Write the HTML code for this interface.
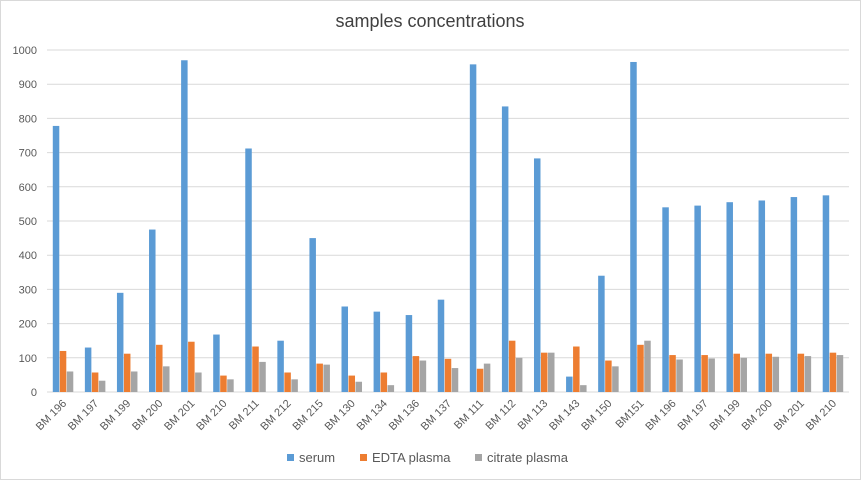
<!DOCTYPE html>
<html><head><meta charset="utf-8"><style>
html,body{margin:0;padding:0;background:#fff;}
body{width:861px;height:480px;overflow:hidden;font-family:"Liberation Sans",sans-serif;}
svg text{font-family:"Liberation Sans",sans-serif;}
</style></head><body>
<svg id="chart" width="861" height="480" xmlns="http://www.w3.org/2000/svg">
<rect x="0.5" y="0.5" width="860" height="479" fill="#fff" stroke="#d9d9d9"/>
<text x="430" y="27" text-anchor="middle" font-size="18" fill="#404040">samples concentrations</text>
<g id="grid"></g><g id="bars"></g><g id="labels"></g>
<g>
<g><rect x="287" y="454" width="7" height="7" fill="#5b9bd5"/><text x="299" y="462" font-size="13" fill="#595959">serum</text></g>
<g><rect x="360" y="454" width="7" height="7" fill="#ed7d31"/><text x="372" y="462" font-size="13" fill="#595959">EDTA plasma</text></g>
<g><rect x="475" y="454" width="7" height="7" fill="#a5a5a5"/><text x="487" y="462" font-size="13" fill="#595959">citrate plasma</text></g>
</g>
</svg>
<script>
const categories=["BM 196","BM 197","BM 199","BM 200","BM 201","BM 210","BM 211","BM 212","BM 215","BM 130","BM 134","BM 136","BM 137","BM 111","BM 112","BM 113","BM 143","BM 150","BM151","BM 196","BM 197","BM 199","BM 200","BM 201","BM 210"];
const serum=[778,130,290,475,970,168,712,150,450,250,235,225,270,958,835,683,45,340,965,540,545,555,560,570,575];
const edta=[120,57,112,138,147,48,133,57,83,48,57,105,97,68,150,115,133,92,138,108,108,112,112,112,115];
const citrate=[60,33,60,75,57,37,88,37,80,30,20,92,70,83,100,115,20,75,150,95,98,100,103,105,108];
const yTicks=[0,100,200,300,400,500,600,700,800,900,1000];
const NS="http://www.w3.org/2000/svg";
const L=47,R=849,Y0=392,Y1=50,YMAX=1000;
const y=v=>Y0-(v/YMAX)*(Y0-Y1);
const bw=(R-L)/categories.length;
const xc=i=>L+bw*(i+0.5);
function mk(t,a,p){const e=document.createElementNS(NS,t);for(const k in a)e.setAttribute(k,a[k]);p.appendChild(e);return e;}
const grid=document.getElementById('grid'),bars=document.getElementById('bars'),labels=document.getElementById('labels');
yTicks.forEach(t=>{
 const l=mk('line',{x1:L,x2:R,y1:y(t),y2:y(t),stroke:'#d9d9d9','stroke-width':1},grid);
 
 
 const tx=mk('text',{x:37,y:y(t)+4,'text-anchor':'end','font-size':11,fill:'#595959'},grid);
 tx.textContent=t;
 
 
});
const series=[[serum,'#5b9bd5','serum'],[edta,'#ed7d31','edta'],[citrate,'#a5a5a5','citrate']];
const w=6.5;
categories.forEach((c,i)=>{
 series.forEach((s,j)=>{
  const v=s[0][i];
  const x=xc(i)+(j-1)*7-w/2;
  const r=mk('rect',{x:x,y:y(v),width:w,height:Y0-y(v),fill:s[1]},bars);
  
  
 });
 const t=mk('text',{x:0,y:0,'text-anchor':'end','font-size':11,fill:'#595959',transform:'translate('+(xc(i)+4)+','+(Y0+12)+') rotate(-45)'},labels);
 t.textContent=c;
 
 
});
</script>
</body></html>
